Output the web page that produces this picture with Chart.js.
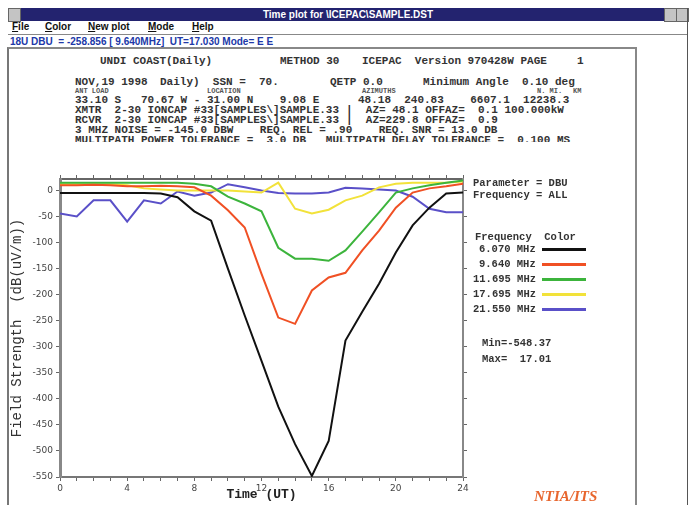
<!DOCTYPE html>
<html><head><meta charset="utf-8">
<script src="https://cdn.jsdelivr.net/npm/chart.js@4.4.0/dist/chart.umd.min.js"></script>
<style>
html,body{margin:0;padding:0;background:#fff;width:695px;height:505px;overflow:hidden;}
.a{position:absolute;white-space:pre;}
#tb{left:8px;top:8px;width:680px;height:13px;background:#23236f;}
#tbt{left:8px;top:8px;width:680px;height:13px;color:#fff;font:bold 10px "Liberation Sans",sans-serif;line-height:13px;text-align:center;}
.btn{top:8px;width:11px;height:12px;background:#c4c4c4;border:1px solid #666;}
.menu{top:21px;font:bold 10px "Liberation Sans",sans-serif;line-height:12px;color:#111;}
#status{left:10px;top:36px;font:bold 10px "Liberation Sans",sans-serif;line-height:12px;color:#2038a8;}
.hdr{font:bold 11px "Liberation Mono",monospace;line-height:11px;color:#333;}
.sm{font:bold 7px "Liberation Mono",monospace;line-height:7px;color:#555;}
#clip{position:absolute;left:0;top:48px;width:634px;height:94px;overflow:hidden;}
.lg{font:bold 10.5px "Liberation Mono",monospace;line-height:11px;color:#333;}
.sw{position:absolute;left:542px;width:44px;height:3px;}
#ntia{left:534px;top:488px;font:italic bold 15px "Liberation Serif",serif;color:#e8662e;}
canvas{position:absolute;left:0;top:150px;}
</style></head>
<body>
<div class="a" id="tb"></div>
<div class="a" id="tbt">Time plot for \ICEPAC\SAMPLE.DST</div>
<div class="a btn" style="left:8px;"></div>
<div class="a btn" style="left:664px;"></div>
<div class="a btn" style="left:676px;"></div>
<div class="a" style="left:8px;top:21px;width:680px;height:13px;border-bottom:1px solid #888;"></div>
<div class="a menu" style="left:12px;"><u>F</u>ile</div>
<div class="a menu" style="left:45px;"><u>C</u>olor</div>
<div class="a menu" style="left:88px;"><u>N</u>ew plot</div>
<div class="a menu" style="left:148px;"><u>M</u>ode</div>
<div class="a menu" style="left:192px;"><u>H</u>elp</div>
<div class="a" id="status">18U DBU  = -258.856 [ 9.640MHz]  UT=17.030 Mode= E E</div>
<div class="a" style="left:7px;top:47px;width:626px;height:460px;border-left:2px solid #777;border-top:2px solid #888;border-right:2px solid #888;"></div>
<div class="a" style="left:687px;top:8px;width:1px;height:497px;background:#555;"></div>

<div id="clip">
<div class="a hdr" style="left:100px;top:8px;">UNDI COAST(Daily)</div>
<div class="a hdr" style="left:280px;top:8px;">METHOD 30</div>
<div class="a hdr" style="left:362px;top:8px;">ICEPAC  Version 970428W PAGE</div>
<div class="a hdr" style="left:577px;top:8px;">1</div>

<div class="a hdr" style="left:75px;top:29px;">NOV,19 1998</div>
<div class="a hdr" style="left:160px;top:29px;">Daily)  SSN =  70.</div>
<div class="a hdr" style="left:330px;top:29px;">QETP 0.0</div>
<div class="a hdr" style="left:423px;top:29px;">Minimum Angle  0.10 deg</div>

<div class="a sm" style="left:75px;top:40px;">ANT LOAD</div>
<div class="a sm" style="left:207px;top:40px;">LOCATION</div>
<div class="a sm" style="left:362px;top:40px;">AZIMUTHS</div>
<div class="a sm" style="left:537px;top:40px;">N. MI.</div>
<div class="a sm" style="left:573px;top:40px;">KM</div>

<div class="a hdr" style="left:75px;top:47px;">33.10 S   70.67 W - 31.00 N    9.08 E</div>
<div class="a hdr" style="left:358px;top:47px;">48.18  240.83    6607.1  12238.3</div>

<div class="a hdr" style="left:75px;top:57px;">XMTR  2-30 IONCAP #33[SAMPLES\]SAMPLE.33</div>
<div class="a hdr" style="left:346px;top:57px;">|  AZ= 48.1 OFFAZ=  0.1 100.000kW</div>
<div class="a hdr" style="left:75px;top:67px;">RCVR  2-30 IONCAP #33[SAMPLES\]SAMPLE.33</div>
<div class="a hdr" style="left:346px;top:67px;">|  AZ=229.8 OFFAZ=  0.9</div>
<div class="a hdr" style="left:75px;top:77px;">3 MHZ NOISE = -145.0 DBW    REQ. REL = .90    REQ. SNR = 13.0 DB</div>
<div class="a hdr" style="left:75px;top:87px;">MULTIPATH POWER TOLERANCE =  3.0 DB   MULTIPATH DELAY TOLERANCE =  0.100 MS</div>
</div>

<canvas id="c" width="695" height="355"></canvas>

<div class="a lg" style="left:473px;top:178px;">Parameter = DBU</div>
<div class="a lg" style="left:473px;top:190px;">Frequency = ALL</div>
<div class="a lg" style="left:475px;top:232px;">Frequency  Color</div>
<div id="legend"></div>
<div class="a lg" style="left:482px;top:338px;">Min=-548.37</div>
<div class="a lg" style="left:482px;top:354px;">Max=  17.01</div>
<div class="a" id="ntia">NTIA/ITS</div>

<script>
// ---- data ----
const HOURS = [0,1,2,3,4,5,6,7,8,9,10,11,12,13,14,15,16,17,18,19,20,21,22,23,24];
const FREQ_LABELS = ['6.070 MHz','9.640 MHz','11.695 MHz','17.695 MHz','21.550 MHz'];
const COLORS = ['#111111','#f05024','#3cb43c','#f2e23a','#5a50c8'];
const DBU_6070  = [-5,-5,-5,-5,-5,-5,-6,-13,-40,-58,-150,-240,-327,-415,-487,-548,-481,-288,-233,-179,-119,-67,-33,-6,-4];
const DBU_9640  = [10,10,11,10,8,8,9,8,6,-10,-38,-71,-160,-244,-256,-192,-167,-158,-115,-77,-33,-4,4,8,13];
const DBU_11695 = [15,15,15,15,15,15,15,15,13,8,-12,-25,-40,-110,-131,-131,-135,-115,-79,-42,-4,4,10,15,19];
const DBU_17695 = [12,12,12,12,10,4,2,0,0,0,0,-2,-4,15,-35,-44,-37,-19,-10,6,13,15,15,15,17];
const DBU_21550 = [-44,-50,-19,-19,-60,-19,-25,-2,-10,-4,12,6,0,-5,-6,-6,-4,5,4,2,0,-12,-35,-42,-42];
const SERIES = [DBU_6070, DBU_9640, DBU_11695, DBU_17695, DBU_21550];
const X_TICKS = HOURS;
const X_LABELS = [0,4,8,12,16,20,24];
const Y_TICKS = [0,-50,-100,-150,-200,-250,-300,-350,-400,-450,-500,-550];
const Y_MIN = -550, Y_MAX = 22;

// legend swatches
const lg = document.getElementById('legend');
FREQ_LABELS.forEach((f,i)=>{
  const y = 244 + i*15;
  const t = document.createElement('div');
  t.className='a lg'; t.style.left = (f.length>9?473:479)+'px'; t.style.top=y+'px'; t.textContent=f;
  lg.appendChild(t);
  const s = document.createElement('div');
  s.className='sw'; s.style.top=(y+4)+'px'; s.style.background=COLORS[i];
  lg.appendChild(s);
});

const tickFont = {family:'DejaVu Sans', size:9};
const common = {
  grid:{drawOnChartArea:false, drawTicks:true, tickLength:4, color:'#666', lineWidth:1},
};
new Chart(document.getElementById('c'), {
  type:'line',
  data:{datasets: SERIES.map((arr,i)=>({
    label: FREQ_LABELS[i],
    data: HOURS.map((h,j)=>({x:h, y:arr[j]})),
    borderColor: COLORS[i], backgroundColor: COLORS[i],
    borderWidth:2, pointRadius:0, tension:0, fill:false
  }))},
  options:{
    responsive:false, animation:false, devicePixelRatio:1,
    layout:{padding:0},
    plugins:{legend:{display:false}, tooltip:{enabled:false}},
    scales:{
      x:{type:'linear', position:'bottom', min:0, max:24,
        afterBuildTicks:s=>{s.ticks = X_TICKS.map(v=>({value:v}));},
        ticks:{autoSkip:false, maxRotation:0, padding:2, font:tickFont, color:'#444',
          callback:v=>X_LABELS.includes(v)?String(v):''},
        ...common,
        border:{color:'#777', width:2},
        title:{display:true, text:'Time (UT)', color:'#222', font:{family:'Liberation Mono', size:13, weight:'bold'}, padding:{top:0,bottom:2}},
        afterFit:s=>{s.height=28;}
      },
      x2:{type:'linear', position:'top', min:0, max:24,
        afterBuildTicks:s=>{s.ticks = X_TICKS.map(v=>({value:v}));},
        ticks:{display:false},
        ...common,
        border:{color:'#666', width:2},
        afterFit:s=>{s.height=29;}
      },
      y:{type:'linear', position:'left', min:Y_MIN, max:Y_MAX,
        afterBuildTicks:s=>{s.ticks = Y_TICKS.map(v=>({value:v}));},
        ticks:{autoSkip:false, padding:3, font:tickFont, color:'#444'},
        ...common,
        border:{color:'#888', width:3},
        title:{display:true, text:'Field Strength  (dB(uV/m))', color:'#333', font:{family:'Liberation Mono', size:14}, padding:{top:9,bottom:0}},
        afterFit:s=>{s.width=60;}
      },
      y2:{type:'linear', position:'right', min:Y_MIN, max:Y_MAX,
        afterBuildTicks:s=>{s.ticks = Y_TICKS.map(v=>({value:v}));},
        ticks:{display:false},
        ...common,
        border:{color:'#888', width:2},
        afterFit:s=>{s.width=232;}
      }
    }
  }
});
</script>
</body></html>
